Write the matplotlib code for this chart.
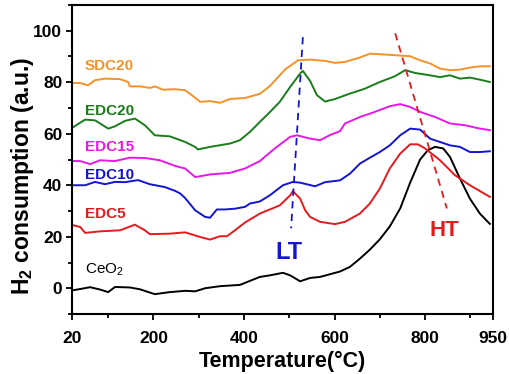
import matplotlib.pyplot as plt
from matplotlib.ticker import MultipleLocator, FixedLocator

plt.rcParams['font.family'] = ['Liberation Sans', 'DejaVu Sans']
plt.rcParams['font.weight'] = 'bold'
plt.rcParams['mathtext.default'] = 'regular'

# Traced TPR profiles (temperature in C, H2 consumption in a.u.)
ceo2_t = [22, 60, 82, 100, 115, 148, 170, 203, 236, 270, 292, 314, 347, 391, 435, 457, 486,
          502, 524, 546, 568, 612, 634, 656, 678, 700, 722, 745, 767, 789, 806, 822, 840,
          855, 877, 899, 921, 943]
ceo2_v = [-0.8, 0.4, -0.5, -1.5, 0.5, 0.3, -0.4, -2.3, -1.5, -1.0, -1.2, 0.0, 0.8, 1.3, 4.4,
          5.0, 6.0, 5.0, 2.7, 4.0, 4.4, 6.5, 8.3, 11.5, 15.0, 19.0, 24.0, 31.0, 41.0, 50.0,
          53.6, 54.9, 54.3, 51.0, 42.6, 34.8, 29.0, 25.0]

edc5_t = [22, 38, 49, 82, 126, 159, 181, 192, 236, 270, 303, 325, 347, 362, 380, 402, 435,
          479, 502, 508, 524, 535, 546, 568, 601, 623, 656, 678, 700, 722, 745, 767, 784,
          800, 833, 866, 899, 943]
edc5_v = [24.5, 23.8, 21.5, 22.1, 22.5, 24.7, 22.5, 21.0, 21.2, 21.7, 19.9, 18.9, 20.2, 20.2,
          22.5, 25.5, 29.0, 32.2, 36.1, 37.7, 34.8, 30.3, 27.7, 25.8, 24.9, 25.8, 29.0, 32.9,
          38.7, 46.5, 52.3, 55.9, 55.9, 54.3, 49.7, 43.9, 40.0, 35.5]

edc10_t = [22, 49, 71, 93, 115, 137, 166, 192, 225, 248, 259, 270, 292, 314, 325, 340, 358,
           380, 402, 413, 435, 457, 486, 508, 524, 557, 579, 612, 634, 656, 678, 700, 722,
           745, 767, 789, 811, 833, 855, 877, 899, 921, 943]
edc10_v = [40.0, 40.0, 41.3, 40.4, 41.3, 41.2, 42.0, 40.4, 39.3, 37.8, 36.8, 35.0, 30.3, 27.7,
           27.4, 30.6, 30.6, 30.9, 31.6, 32.9, 33.7, 36.1, 40.0, 41.3, 41.0, 39.6, 41.2, 41.9,
           44.5, 48.4, 50.7, 52.9, 55.5, 59.4, 62.0, 61.6, 58.1, 56.8, 55.5, 54.9, 52.9, 52.9,
           53.2]

edc15_t = [22, 38, 60, 82, 115, 148, 181, 214, 248, 270, 292, 303, 325, 369, 402, 435, 468,
           502, 517, 546, 568, 590, 612, 623, 656, 689, 722, 745, 767, 789, 822, 855, 888,
           921, 943]
edc15_v = [49.4, 49.4, 48.2, 49.7, 49.4, 50.7, 50.6, 49.7, 47.5, 46.5, 43.2, 43.5, 44.2, 44.8,
           46.5, 49.4, 54.3, 58.8, 59.4, 58.1, 57.5, 59.5, 61.0, 64.0, 66.5, 68.5, 70.7, 71.5,
           70.4, 68.5, 66.5, 64.0, 63.3, 62.0, 61.4]

edc20_t = [22, 49, 71, 100, 115, 137, 159, 181, 203, 236, 270, 292, 298, 325, 369, 391, 413,
           435, 457, 479, 502, 524, 530, 546, 561, 579, 601, 634, 667, 700, 733, 756, 778,
           811, 833, 855, 877, 899, 921, 943]
edc20_v = [62.5, 65.5, 65.2, 62.0, 62.9, 65.0, 65.9, 63.3, 59.4, 59.0, 56.8, 54.9, 53.9, 54.9,
           56.2, 57.5, 60.7, 64.6, 68.4, 72.4, 78.2, 83.4, 84.4, 80.5, 75.0, 72.5, 73.5, 75.6,
           77.5, 80.1, 82.3, 84.7, 83.6, 82.7, 82.0, 82.7, 81.4, 81.8, 81.0, 80.1]

sdc20_t = [22, 38, 55, 71, 93, 126, 144, 148, 170, 192, 203, 221, 248, 270, 292, 303, 325,
           347, 369, 402, 435, 457, 491, 519, 546, 579, 601, 623, 656, 678, 700, 733, 767,
           789, 811, 833, 855, 877, 899, 921, 943]
sdc20_v = [79.7, 79.7, 78.8, 80.8, 81.4, 81.2, 80.1, 78.4, 78.4, 77.8, 78.4, 77.1, 77.3, 76.9,
           74.0, 72.4, 72.7, 72.0, 73.5, 73.9, 75.5, 78.5, 85.0, 88.5, 88.8, 88.3, 87.5, 87.9,
           89.6, 91.1, 90.9, 90.5, 90.1, 88.5, 87.3, 85.3, 84.7, 84.9, 85.7, 86.2, 86.2]

# Guide lines for low / high temperature peaks
lt_t = [530, 504]
lt_v = [97.5, 23.3]
ht_t = [734, 848]
ht_v = [99, 31]

series = [
    (ceo2_t, ceo2_v, 'black', 'CeO$_2$', 7, 'normal'),
    (edc5_t, edc5_v, '#e41a1c', 'EDC5', 29, 'bold'),
    (edc10_t, edc10_v, '#1414d2', 'EDC10', 44, 'bold'),
    (edc15_t, edc15_v, '#e619e6', 'EDC15', 54.8, 'bold'),
    (edc20_t, edc20_v, '#1a7d1a', 'EDC20', 68.7, 'bold'),
    (sdc20_t, sdc20_v, '#f39228', 'SDC20', 86.2, 'bold'),
]

fig = plt.figure(figsize=(5.1, 3.74), dpi=100)
ax = fig.add_axes([72 / 510, 60 / 374, 421 / 510, 309 / 374])

for t, v, color, name, ly, weight in series:
    ax.plot(t, v, color=color, linewidth=1.4)
    ax.text(48, ly, name, color=color, fontsize=11, fontweight=weight, va='center')

ax.plot(lt_t, lt_v, color='#1414d2', linestyle=(0, (4, 3)), linewidth=1.3)
ax.plot(ht_t, ht_v, color='#e41a1c', linestyle=(0, (4, 3)), linewidth=1.3)
ax.text(500, 14, 'LT', color='#1414d2', fontsize=17, fontweight='bold', ha='center', va='center')
ax.text(842, 22.5, 'HT', color='#e41a1c', fontsize=16, fontweight='bold', ha='center', va='center')

ax.set_xlim(20, 950)
ax.set_ylim(-10, 110)
ax.xaxis.set_major_locator(FixedLocator([20, 200, 400, 600, 800, 950]))
ax.xaxis.set_minor_locator(FixedLocator([100, 300, 500, 700, 900]))
ax.yaxis.set_major_locator(FixedLocator([0, 20, 40, 60, 80, 100]))
ax.yaxis.set_minor_locator(MultipleLocator(10))
ax.tick_params(which='both', direction='out', width=1.3, labelsize=12.5)
ax.tick_params(which='major', length=4, pad=3)
ax.tick_params(which='minor', length=3)
ax.tick_params(axis='x', which='major', pad=8)
for s in ax.spines.values():
    s.set_linewidth(1.5)

ax.set_xlabel('Temperature(°C)', fontsize=15.5, fontweight='bold', labelpad=4)
ax.set_ylabel('H$_2$ consumption (a.u.)', fontsize=16.5, fontweight='bold')
ax.yaxis.set_label_coords(-0.085, 0.447)

fig.savefig('out.png', dpi=100)
